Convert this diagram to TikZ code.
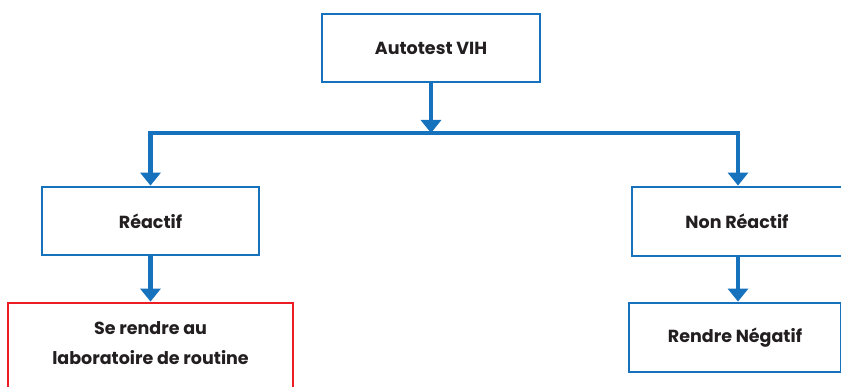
\documentclass[tikz,border=0pt]{standalone}
\usepackage{fontspec}
\setmainfont{Poppins}
\usetikzlibrary{arrows.meta}
\definecolor{cblue}{HTML}{1672BD}
\definecolor{cred}{HTML}{EC1C24}
\definecolor{ctext}{HTML}{231F20}
\tikzset{
  x=1pt, y=-1pt,
  box/.style={draw=cblue, line width=2.8pt, fill=white, inner sep=0pt, align=center,
    text=ctext, font=\fontsize{17.5}{30}\selectfont\bfseries},
  redbox/.style={box, draw=cred},
  conn/.style={draw=cblue, line width=4.5pt, -{Triangle[width=20pt,length=13pt]}},
  bar/.style={draw=cblue, line width=4.5pt}
}
\begin{document}
\begin{tikzpicture}
\useasboundingbox (0,0) rectangle (841,387);
\clip (0,0) rectangle (841,387);
\node[box, minimum width=218pt, minimum height=68pt] (top) at (431,48) {Autotest VIH};
\node[box, minimum width=217pt, minimum height=68pt] (reac) at (150.5,221) {Réactif};
\node[box, minimum width=210pt, minimum height=69pt] (nonreac) at (737,221.5) {Non Réactif};
\node[redbox, minimum width=285pt, minimum height=94pt] (lab) at (150.5,350) {};
\node[align=center, text=ctext, font=\fontsize{17.5}{30}\selectfont\bfseries] (labtxt) at (150.5,343) {Se rendre au\\laboratoire de routine};
\node[box, minimum width=212pt, minimum height=69pt] (neg) at (735,337.5) {Rendre Négatif};
\coordinate (bar) at (431,133);
\draw[conn] (top.south) -- (bar);
\draw[conn] (bar) -| (reac.north);
\draw[conn] (bar) -| ([xshift=1pt]nonreac.north);
\draw[conn] (reac.south) -- (lab.north);
\draw[conn] ([xshift=1pt]nonreac.south) -- ([xshift=1pt]nonreac.south |- neg.north);
\end{tikzpicture}
\end{document}
